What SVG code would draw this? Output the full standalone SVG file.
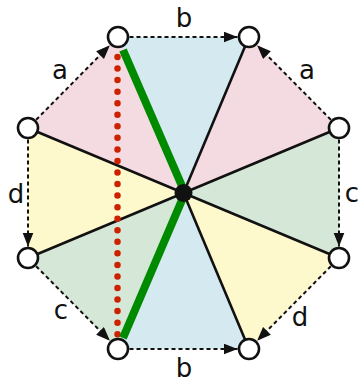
<svg xmlns="http://www.w3.org/2000/svg" width="359" height="387" viewBox="0 0 359 387">
  <style>
    .blue{fill:#d5eaf0}
    .pink{fill:#f4dbe1}
    .grn{fill:#d5e7d6}
    .yel{fill:#fef8cd}
    .spoke{stroke:#111;stroke-width:2.6;fill:none}
    .edge{stroke:#111;stroke-width:2;stroke-dasharray:4 3;fill:none}
    .node{fill:#fff;stroke:#111;stroke-width:2.6}
    .lbl{font-family:"DejaVu Sans",sans-serif;font-size:26px;fill:#111;text-anchor:middle}
  </style>
  <defs>
    <marker id="arr" markerUnits="userSpaceOnUse" markerWidth="15" markerHeight="12" refX="14" refY="5.5" orient="auto">
      <path d="M0,0 L14,5.5 L0,11 z" fill="#111"/>
    </marker>
  </defs>
  <g id="sectors">
    <polygon class="blue" points="183.5,193 118,37 249,37"/>
    <polygon class="pink" points="183.5,193 249,37 339,128"/>
    <polygon class="grn" points="183.5,193 339,128 339,258"/>
    <polygon class="yel" points="183.5,193 339,258 249,349"/>
    <polygon class="blue" points="183.5,193 249,349 118,349"/>
    <polygon class="grn" points="183.5,193 118,349 28,258"/>
    <polygon class="yel" points="183.5,193 28,258 28,128"/>
    <polygon class="pink" points="183.5,193 28,128 118,37"/>
  </g>
  <g id="connectors">
    <line class="spoke" x1="183.5" y1="193" x2="249" y2="37"/>
    <line class="spoke" x1="183.5" y1="193" x2="339" y2="128"/>
    <line class="spoke" x1="183.5" y1="193" x2="339" y2="258"/>
    <line class="spoke" x1="183.5" y1="193" x2="249" y2="349"/>
    <line class="spoke" x1="183.5" y1="193" x2="28" y2="128"/>
    <line class="spoke" x1="183.5" y1="193" x2="28" y2="258"/>
    <line x1="117.5" y1="57" x2="117.5" y2="335" stroke="#cc2200" stroke-width="6.5" stroke-linecap="round" stroke-dasharray="0 11.55"/>
    <polyline points="123,50 185,193 123,338" fill="none" stroke="#008a00" stroke-width="8" stroke-linejoin="miter"/>
    <line class="edge" x1="36.1" y1="119.8" x2="109.9" y2="45.2" marker-end="url(#arr)"/>
    <line class="edge" x1="129.5" y1="37" x2="237.5" y2="37" marker-end="url(#arr)"/>
    <line class="edge" x1="330.9" y1="119.8" x2="257.1" y2="45.2" marker-end="url(#arr)"/>
    <line class="edge" x1="339" y1="139.5" x2="339" y2="246.5" marker-end="url(#arr)"/>
    <line class="edge" x1="28" y1="139.5" x2="28" y2="246.5" marker-end="url(#arr)"/>
    <line class="edge" x1="36.1" y1="266.2" x2="109.9" y2="340.8" marker-end="url(#arr)"/>
    <line class="edge" x1="129.5" y1="349" x2="237.5" y2="349" marker-end="url(#arr)"/>
    <line class="edge" x1="330.9" y1="266.2" x2="257.1" y2="340.8" marker-end="url(#arr)"/>
  </g>
  <g id="center"><circle cx="183.5" cy="193" r="9" fill="#111"/></g>
  <g id="n1"><circle class="node" cx="118" cy="37" r="10"/></g>
  <g id="n2"><circle class="node" cx="249" cy="37" r="10"/></g>
  <g id="n3"><circle class="node" cx="339" cy="128" r="10"/></g>
  <g id="n4"><circle class="node" cx="339" cy="258" r="10"/></g>
  <g id="n5"><circle class="node" cx="249" cy="349" r="10"/></g>
  <g id="n6"><circle class="node" cx="118" cy="349" r="10"/></g>
  <g id="n7"><circle class="node" cx="28" cy="258" r="10"/></g>
  <g id="n8"><circle class="node" cx="28" cy="128" r="10"/></g>
  <g id="labels">
    <text class="lbl" x="60" y="79">a</text>
    <text class="lbl" x="184" y="27">b</text>
    <text class="lbl" x="307" y="79">a</text>
    <text class="lbl" x="352" y="202">c</text>
    <text class="lbl" x="16" y="203">d</text>
    <text class="lbl" x="61" y="319">c</text>
    <text class="lbl" x="184" y="377">b</text>
    <text class="lbl" x="300" y="326">d</text>
  </g>
</svg>
